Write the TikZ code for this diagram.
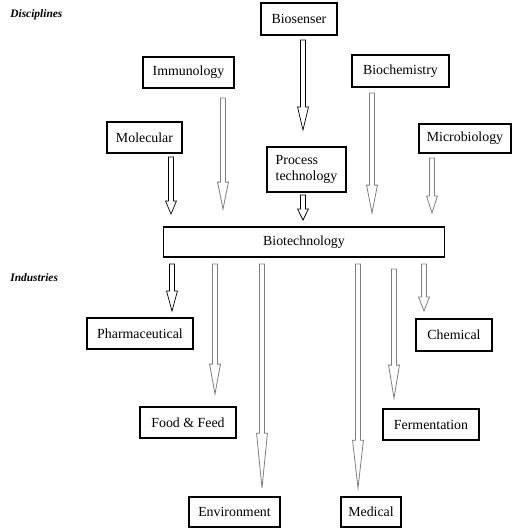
\documentclass[tikz,border=0pt]{standalone}
\usepackage{fontspec}
\setmainfont{Liberation Serif}
\usetikzlibrary{calc}
\definecolor{BtGray}{RGB}{125,125,125}
\tikzset{
  bt/box/.style={
    draw=black,
    line width=0.6pt,
    fill=white,
    align=center,
    inner sep=2pt,
    font=\fontsize{7.9}{9.2}\selectfont
  },
  bt/title/.style={font=\fontsize{6.5}{8}\selectfont\bfseries\itshape, anchor=west, inner sep=0pt},
  bt/arrow/.style={draw=black, line width=0.4pt, fill=white},
  bt/grayarrow/.style={draw=BtGray, line width=0.45pt, fill=white}
}
% hollow block arrow: start, tip, head length (px)
\newcommand{\btarrow}[4][bt/arrow]{%
  \draw[#1] let \p1=(#2), \p2=(#3) in
    (\x1-1.45pt,\y1) -- (\x1-1.45pt,\y2+#4*0.567pt) -- (\x1-3.1pt,\y2+#4*0.567pt)
    -- (\x1,\y2) -- (\x1+3.1pt,\y2+#4*0.567pt) -- (\x1+1.45pt,\y2+#4*0.567pt)
    -- (\x1+1.45pt,\y1) -- cycle;}

\begin{document}
\begin{tikzpicture}[x=0.02cm,y=-0.02cm]
  \useasboundingbox (0,0) rectangle (520,529);

  \node[bt/title] (disc) at (10,15) {Disciplines};
  \node[bt/title] (indu) at (10,278) {Industries};

  % disciplines
  \node[bt/box,minimum width=1.52cm,minimum height=0.64cm] (bios) at (299,19) {Biosenser};
  \node[bt/box,minimum width=1.82cm,minimum height=0.62cm] (immu) at (188.5,72.5) {Immunology};
  \node[bt/box,minimum width=1.94cm,minimum height=0.64cm] (bioc) at (400.5,71) {Biochemistry};
  \node[bt/box,minimum width=1.50cm,minimum height=0.62cm] (mole) at (144.5,137.5) {Molecular};
  \node[bt/box,minimum width=1.84cm,minimum height=0.58cm] (micr) at (465,138.5) {Microbiology};
  \node[bt/box,minimum width=1.58cm,minimum height=0.90cm,align=left] (proc) at (306.5,169.5) {Process\\technology};

  \node[bt/box,minimum width=5.64cm,minimum height=0.60cm] (biot) at (304,242) {Biotechnology};

  % industries
  \node[bt/box,minimum width=2.12cm,minimum height=0.62cm] (phar) at (140,333.5) {Pharmaceutical};
  \node[bt/box,minimum width=1.92cm,minimum height=0.62cm] (food) at (188,422.5) {Food \& Feed};
  \node[bt/box,minimum width=1.82cm,minimum height=0.60cm] (envi) at (234.5,512) {Environment};
  \node[bt/box,minimum width=1.20cm,minimum height=0.60cm] (medi) at (371,512) {Medical};
  \node[bt/box,minimum width=1.52cm,minimum height=0.64cm] (chem) at (454,335) {Chemical};
  \node[bt/box,minimum width=1.92cm,minimum height=0.62cm] (ferm) at (431,424.5) {Fermentation};

  % arrow ends
  \coordinate (bios-out) at (303,40);   \coordinate (proc-in) at (303,130);
  \coordinate (immu-out) at (223,98);   \coordinate (immu-in) at (223,209);
  \coordinate (mole-out) at (171,157);  \coordinate (mole-in) at (171,214);
  \coordinate (bioc-out) at (372,93);   \coordinate (bioc-in) at (372,213);
  \coordinate (micr-out) at (432,158);  \coordinate (micr-in) at (432,213);
  \coordinate (proc-out) at (303,195);  \coordinate (proc-tip) at (303,220);
  \coordinate (biot-phar) at (172,264); \coordinate (phar-in) at (172,311);
  \coordinate (biot-food) at (215,264); \coordinate (food-in) at (215,394);
  \coordinate (biot-envi) at (262,264); \coordinate (envi-in) at (262,488);
  \coordinate (biot-medi) at (358,264); \coordinate (medi-in) at (358,488);
  \coordinate (biot-ferm) at (394,269); \coordinate (ferm-in) at (394,398);
  \coordinate (biot-chem) at (424,264); \coordinate (chem-in) at (424,311);

  \btarrow{bios-out}{proc-in}{23}
  \btarrow[bt/grayarrow]{immu-out}{immu-in}{27}
  \btarrow{mole-out}{mole-in}{13}
  \btarrow[bt/grayarrow]{bioc-out}{bioc-in}{28}
  \btarrow[bt/grayarrow]{micr-out}{micr-in}{17}
  \btarrow{proc-out}{proc-tip}{11}

  \btarrow{biot-phar}{phar-in}{20}
  \btarrow[bt/grayarrow]{biot-food}{food-in}{30}
  \btarrow[bt/grayarrow]{biot-envi}{envi-in}{55}
  \btarrow[bt/grayarrow]{biot-medi}{medi-in}{48}
  \btarrow[bt/grayarrow]{biot-ferm}{ferm-in}{33}
  \btarrow[bt/grayarrow]{biot-chem}{chem-in}{14}
\end{tikzpicture}
\end{document}
